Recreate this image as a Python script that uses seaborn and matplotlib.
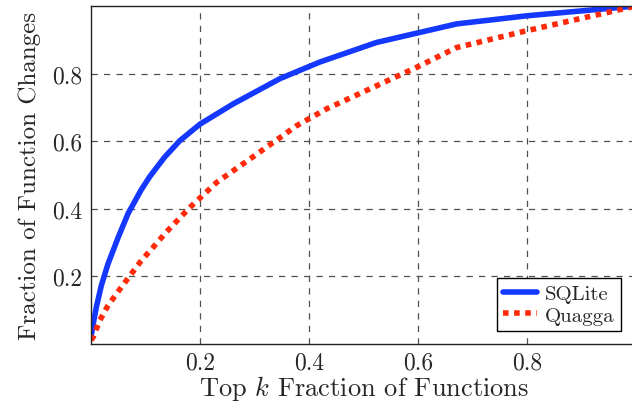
import numpy as np
import pandas as pd
import matplotlib
matplotlib.use('Agg')
import matplotlib.pyplot as plt
import seaborn as sns

# values
sqlite_x = [0.0, 0.0037, 0.0098, 0.019, 0.031, 0.050, 0.068, 0.092, 0.108, 0.135, 0.163,
            0.2, 0.261, 0.347, 0.42, 0.524, 0.671, 0.8, 1.0]
sqlite_y = [0.02, 0.055, 0.108, 0.172, 0.235, 0.315, 0.385, 0.455, 0.495, 0.552, 0.601,
            0.65, 0.71, 0.785, 0.834, 0.892, 0.947, 0.971, 1.0]

quagga_x = [0.0, 0.004, 0.016, 0.031, 0.053, 0.071, 0.092, 0.114, 0.138, 0.182, 0.231,
            0.292, 0.377, 0.432, 0.597, 0.671, 0.8, 1.0]
quagga_y = [0.01, 0.019, 0.068, 0.112, 0.161, 0.20, 0.245, 0.285, 0.33, 0.404, 0.478,
            0.547, 0.645, 0.695, 0.818, 0.877, 0.927, 1.0]

ticks = [0.2, 0.4, 0.6, 0.8]
tick_labels = ['0.2', '0.4', '0.6', '0.8']

df = pd.concat([
    pd.DataFrame({'x': sqlite_x, 'y': sqlite_y, 'tool': 'SQLite'}),
    pd.DataFrame({'x': quagga_x, 'y': quagga_y, 'tool': 'Quagga'}),
])

sns.set_style('white')
plt.rcParams['font.family'] = ['cmr10', 'DejaVu Serif']
plt.rcParams['mathtext.fontset'] = 'cm'
plt.rcParams['axes.unicode_minus'] = False

fig = plt.figure(figsize=(6.32, 4.02), dpi=100)
ax = fig.add_axes([91 / 632, 57.5 / 402, 545 / 632, 337.5 / 402])

sns.lineplot(data=df[df.tool == 'SQLite'], x='x', y='y', ax=ax, color='#1538ff',
             linewidth=4, label='SQLite', sort=False)
sns.lineplot(data=df[df.tool == 'Quagga'], x='x', y='y', ax=ax, color='#ff2a0a',
             linewidth=4, label='Quagga', sort=False)
ax.lines[0].set_solid_joinstyle('round')
ax.lines[1].set_linestyle((0, (1, 1)))

ax.set_xlim(0, 1)
ax.set_ylim(0, 1)
ax.set_xticks(ticks)
ax.set_xticklabels(tick_labels)
ax.set_yticks(ticks)
ax.set_yticklabels(tick_labels)
ax.tick_params(axis='both', labelsize=17, length=0, pad=6)
ax.grid(True, color='#505050', linestyle=(0, (5, 5)), linewidth=0.9)
for s in ax.spines.values():
    s.set_color('#222222')
    s.set_linewidth(1.0)

ax.set_xlabel('Top $k$ Fraction of Functions', fontsize=19, labelpad=-1)
ax.set_ylabel('Fraction of Function Changes', fontsize=18, labelpad=8)

leg = ax.legend(loc='lower right', fontsize=15, frameon=True, fancybox=False,
                edgecolor='black', framealpha=1, handlelength=1.6,
                handletextpad=0.4, borderpad=0.3, labelspacing=0.15,
                borderaxespad=0.6, bbox_to_anchor=(0.995, 0.0))
leg.get_frame().set_linewidth(1.0)

fig.savefig('out.png', dpi=100)
